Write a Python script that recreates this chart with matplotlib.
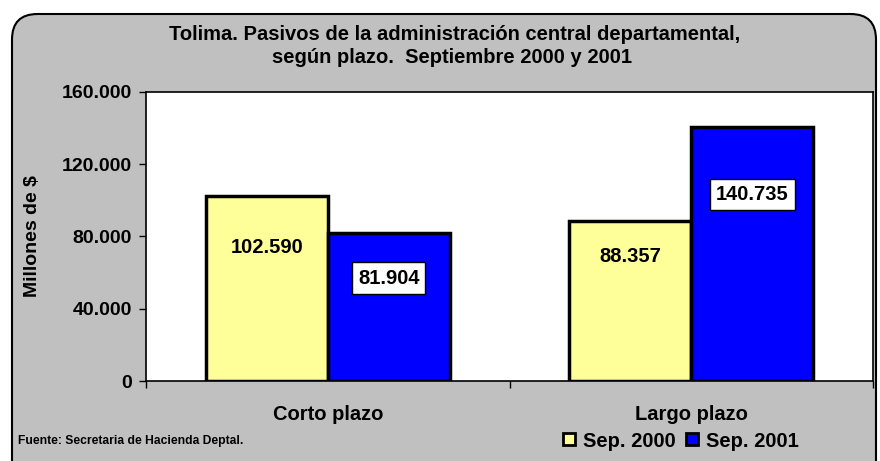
import matplotlib.pyplot as plt
from matplotlib.patches import FancyBboxPatch
from matplotlib.lines import Line2D
import numpy as np

categorias = ["Corto plazo", "Largo plazo"]
sep_2000 = [102590, 88357]
sep_2001 = [81904, 140735]
etiquetas_2000 = ["102.590", "88.357"]
etiquetas_2001 = ["81.904", "140.735"]
ticks_y = [0, 40000, 80000, 120000, 160000]
ticks_y_txt = ["0", "40.000", "80.000", "120.000", "160.000"]

# altura relativa de cada etiqueta dentro de su barra
pos_2000 = [0.718, 0.777]
pos_2001 = [0.696, 0.732]

plt.rcParams['font.family'] = ['Liberation Sans', 'DejaVu Sans']
plt.rcParams['font.weight'] = 'bold'

fig = plt.figure(figsize=(8.8, 4.61), dpi=100)
fig.patch.set_facecolor('white')

# fondo gris redondeado
fondo = FancyBboxPatch((12 / 880, -0.1), 864 / 880, 1.1 - 14 / 461,
                       boxstyle="round,pad=0,rounding_size=0.029",
                       transform=fig.transFigure, facecolor='#C0C0C0',
                       edgecolor='black', linewidth=1.5, mutation_aspect=880 / 461,
                       zorder=-5)
fig.patches.append(fondo)

ax = fig.add_axes([146 / 880, 80 / 461, 727 / 880, 289 / 461])
ax.set_zorder(2)
ax.set_facecolor('white')

x = np.arange(len(categorias))
w = 0.335
ax.bar(x - w / 2, sep_2000, w, color='#FFFF99', edgecolor='black', linewidth=2.5)
ax.bar(x + w / 2, sep_2001, w, color='#0000FF', edgecolor='black', linewidth=2.5)

for i in range(len(categorias)):
    ax.text(x[i] - w / 2, sep_2000[i] * pos_2000[i], etiquetas_2000[i], ha='center', va='center',
            fontsize=14.5, fontweight='bold')
    ax.text(x[i] + w / 2, sep_2001[i] * pos_2001[i], etiquetas_2001[i], ha='center', va='center',
            fontsize=14.5, fontweight='bold',
            bbox=dict(boxstyle='square,pad=0.3', facecolor='white', edgecolor='black', linewidth=1))

ax.set_xlim(-0.5, 1.5)
ax.set_ylim(0, 160000)
ax.set_yticks(ticks_y)
ax.set_yticklabels(ticks_y_txt, fontsize=14, fontweight='bold')
ax.set_xticks(x)
ax.set_xticklabels(categorias, fontsize=14.5, fontweight='bold')
ax.set_xticks([-0.5, 0.5, 1.5], minor=True)
ax.tick_params(axis='x', which='major', length=0, pad=17)
ax.tick_params(axis='x', which='minor', length=5, direction='out', width=1)
ax.tick_params(axis='y', length=5, width=1, pad=5)
for s in ax.spines.values():
    s.set_linewidth(1.2)

ax.set_ylabel("Millones de $", fontsize=14, fontweight='bold', labelpad=15)

fig.text(0.517, 0.926, "Tolima. Pasivos de la administración central departamental,",
         ha='center', va='center', fontsize=14.5, fontweight='bold')
fig.text(0.514, 0.875, "según plazo.  Septiembre 2000 y 2001",
         ha='center', va='center', fontsize=14.5, fontweight='bold')

fig.text(18 / 880, 1 - 441 / 461, "Fuente: Secretaria de Hacienda Deptal.",
         ha='left', va='center', fontsize=8.7, fontweight='bold')

handles = [Line2D([], [], marker='s', linestyle='', markersize=9, markerfacecolor='#FFFF99',
                  markeredgecolor='black', markeredgewidth=2),
           Line2D([], [], marker='s', linestyle='', markersize=9, markerfacecolor='#0000FF',
                  markeredgecolor='black', markeredgewidth=2)]
fig.legend(handles, ["Sep. 2000", "Sep. 2001"], loc='center', bbox_to_anchor=(680 / 880, 1 - 441 / 461),
           ncol=2, frameon=False, handlelength=0.8, handletextpad=0.3, columnspacing=0.4,
           prop={'weight': 'bold', 'size': 14.5})

fig.savefig("out.png", dpi=100)
